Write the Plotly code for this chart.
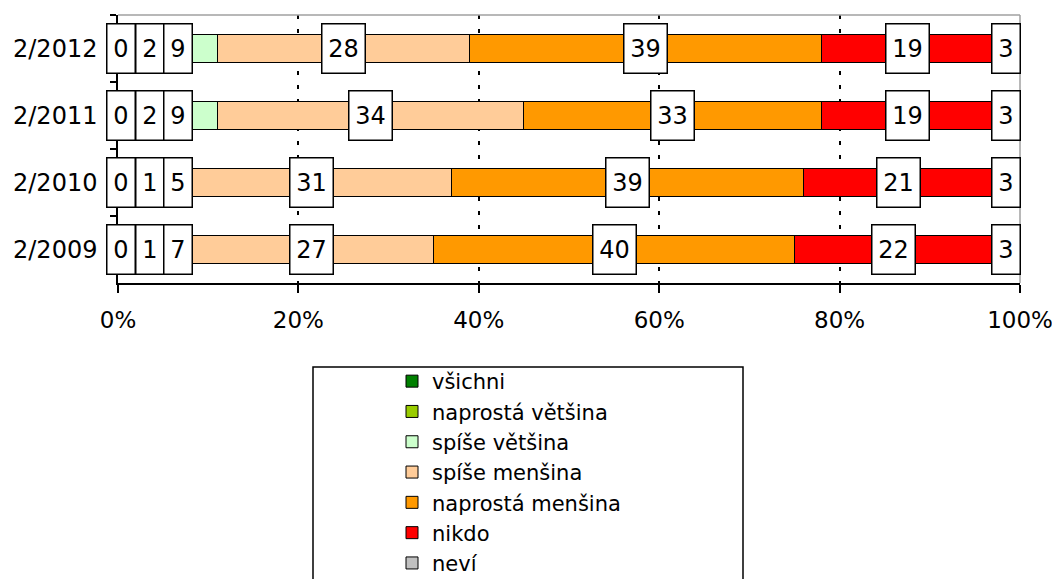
import plotly.graph_objects as go

categories = ["2/2012", "2/2011", "2/2010", "2/2009"]
series_names = ["všichni", "naprostá většina", "spíše většina", "spíše menšina",
                "naprostá menšina", "nikdo", "neví"]
values = {
    "všichni":          [0, 0, 0, 0],
    "naprostá většina": [2, 2, 1, 1],
    "spíše většina":    [9, 9, 5, 7],
    "spíše menšina":    [28, 34, 31, 27],
    "naprostá menšina": [39, 33, 39, 40],
    "nikdo":            [19, 19, 21, 22],
    "neví":             [3, 3, 3, 3],
}
colors = ["#008000", "#99CC00", "#CCFFCC", "#FFCC99", "#FF9900", "#FF0000", "#C0C0C0"]
x_ticks = [0, 20, 40, 60, 80, 100]

FONT = "DejaVu Sans"
# page has an 8px body margin; figure is sized to fill the rest of the window
OFF = 8
W, H = 1060 - OFF, 579 - OFF
PL, PR, PT, PB = 118 - OFF, 1020 - OFF, 15 - OFF, 283 - OFF
PW, PH = PR - PL, PB - PT

def px_x(p):
    return (p - OFF - PL) / PW

def px_y(p):
    return (PB - (p - OFF)) / PH

fig = go.Figure()
for name, col in zip(series_names, colors):
    fig.add_trace(go.Bar(
        y=categories, x=values[name], name=name, orientation="h",
        marker=dict(color=col, line=dict(color="black", width=1)),
        hoverinfo="x+name",
    ))

# data labels
small_shift = [3, 32, 60]
annotations = []
for ci, cat in enumerate(categories):
    cum = 0
    for si, name in enumerate(series_names):
        v = values[name][ci]
        txt = str(v)
        w = 15 * len(txt) + 12
        if si < 3:
            ax_x, shift = 0, small_shift[si]
        else:
            ax_x, shift = cum + v / 2, 0
        annotations.append(dict(
            x=ax_x, y=cat, xref="x", yref="y", text=txt, showarrow=False,
            xshift=shift, font=dict(family=FONT, size=24, color="black"),
            bgcolor="white", bordercolor="black", borderwidth=1.5,
            width=w, height=48, borderpad=0,
        ))
        cum += v

shapes = [
    dict(type="line", xref="paper", yref="paper", x0=0, x1=1, y0=1, y1=1,
         line=dict(color="#A0A0A0", width=1.5)),
    dict(type="line", xref="paper", yref="paper", x0=1, x1=1, y0=0, y1=1,
         line=dict(color="#A0A0A0", width=1.5)),
    dict(type="rect", xref="paper", yref="paper",
         x0=px_x(313), x1=px_x(743), y0=px_y(367), y1=px_y(650),
         line=dict(color="black", width=1.5), fillcolor="rgba(0,0,0,0)"),
]

fig.update_layout(
    barmode="stack", bargap=0.57,
    width=W, height=H,
    margin=dict(l=PL, r=W - PR, t=PT, b=H - PB, autoexpand=False),
    paper_bgcolor="white", plot_bgcolor="white",
    font=dict(family=FONT, size=23, color="black"),
    showlegend=True,
    legend=dict(
        traceorder="normal", orientation="v",
        x=px_x(392), xanchor="left",
        y=px_y(361), yanchor="top",
        bgcolor="rgba(0,0,0,0)", borderwidth=0,
        font=dict(family=FONT, size=21, color="black"),
        tracegroupgap=0,
    ),
    annotations=annotations,
    shapes=shapes,
)
fig.update_xaxes(
    range=[0, 100], tickvals=x_ticks, ticktext=[f"{t}%" for t in x_ticks],
    showgrid=True, gridcolor="black", gridwidth=2, griddash="4px,10px",
    zeroline=False, showline=True, linecolor="black", linewidth=1.5,
    ticks="outside", ticklen=8, tickcolor="black", tickwidth=1.5,
    tickfont=dict(family=FONT, size=23), ticklabelstandoff=8, automargin=False,
)
fig.update_yaxes(
    autorange="reversed", showline=True, linecolor="black", linewidth=1.5,
    ticks="outside", ticklen=6, tickcolor="black", tickwidth=1.5,
    tickson="boundaries", showgrid=False, automargin=False,
    tickfont=dict(family=FONT, size=24), ticklabelstandoff=14,
)
fig.write_html("out.html")
